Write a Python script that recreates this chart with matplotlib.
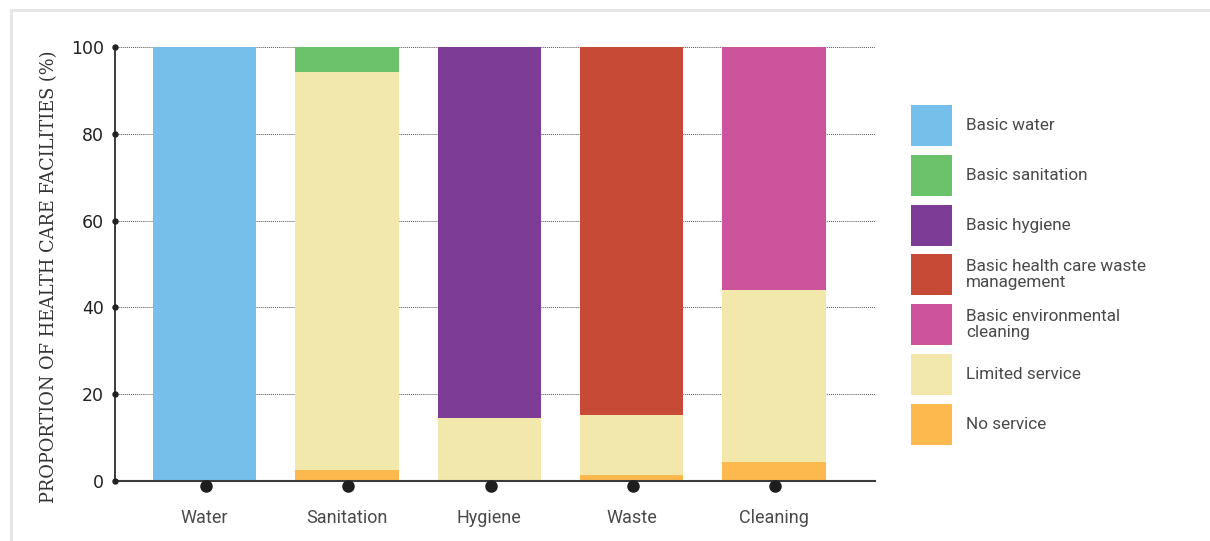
import numpy as np
import matplotlib
matplotlib.use('Agg')
import matplotlib.pyplot as plt
import matplotlib.transforms as mtransforms
from matplotlib.patches import Rectangle

# data (% of health care facilities)
categories = ['Water', 'Sanitation', 'Hygiene', 'Waste', 'Cleaning']
no_service = [0.0, 2.6, 0.0, 1.4, 4.4]
limited_service = [0.0, 91.6, 14.6, 13.8, 39.6]
basic_service = [100.0, 5.8, 85.4, 84.8, 56.0]

basic_colors = ['#74c0ea', '#6cc16b', '#7d3c96', '#c64a35', '#cd539c']
limited_color = '#f2e8ab'
no_color = '#fdb94e'

legend_labels = ['Basic water', 'Basic sanitation', 'Basic hygiene',
                 'Basic health care waste\nmanagement',
                 'Basic environmental\ncleaning',
                 'Limited service', 'No service']
legend_colors = basic_colors + [limited_color, no_color]

yticks = [0, 20, 40, 60, 80, 100]

W, H = 1210, 541
fig = plt.figure(figsize=(W / 100, H / 100), dpi=100)
ax = fig.add_axes([115 / W, 1 - 481 / H, 760 / W, 434 / H])

x = np.arange(len(categories))
bw = 0.725
no_arr = np.array(no_service)
lim_arr = np.array(limited_service)
ax.bar(x, no_arr, bw, color=no_color, zorder=2)
ax.bar(x, lim_arr, bw, bottom=no_arr, color=limited_color, zorder=2)
ax.bar(x, basic_service, bw, bottom=no_arr + lim_arr, color=basic_colors, zorder=2)

ax.set_xlim(-0.63, 4.71)
ax.set_ylim(0, 100)

# spines
for s in ['top', 'right']:
    ax.spines[s].set_visible(False)
ax.spines['left'].set_color('#2b2b2b')
ax.spines['left'].set_linewidth(1.3)
ax.spines['bottom'].set_color('#3a3a3a')
ax.spines['bottom'].set_linewidth(1.5)
ax.spines['bottom'].set_zorder(3)

# dotted grid
ax.set_yticks(yticks)
ax.yaxis.grid(True, linestyle=(0, (1, 1)), linewidth=0.7, color='#555555')
ax.set_axisbelow(True)
ax.tick_params(axis='y', length=0, pad=8, labelsize=12.5, labelcolor='#222222')
for lab in ax.get_yticklabels():
    lab.set_fontfamily('DejaVu Sans')

# dots on the y axis at the ticks
ax.plot([ax.get_xlim()[0]] * len(yticks), yticks, 'o', ms=3.6, color='#222222',
        clip_on=False, zorder=4)

# dots under each category
off = mtransforms.ScaledTranslation(1.5 / 100, -4.7 / 100, fig.dpi_scale_trans)
ax.plot(x, np.zeros(len(x)), 'o', ms=8, color='#1e1e1e', clip_on=False,
        zorder=5, transform=ax.transData + off)

ax.set_xticks(x)
ax.set_xticklabels(categories, fontfamily='Roboto', fontsize=13, color='#4a4a4a')
ax.tick_params(axis='x', length=0, pad=20.5)

ax.set_ylabel('PROPORTION OF HEALTH CARE FACILITIES (%)', fontfamily='DejaVu Serif',
              fontsize=12.8, color='#333333')
ax.yaxis.set_label_coords(-0.075, 0.471)

# legend drawn by hand on the right
sq = 41
top0 = 105
step = 49.8
for i, (lab, col) in enumerate(zip(legend_labels, legend_colors)):
    top = top0 + i * step
    fig.add_artist(Rectangle((911 / W, 1 - (top + sq) / H), sq / W, sq / H,
                             transform=fig.transFigure, color=col, lw=0))
    fig.text(966 / W, 1 - (top + sq / 2) / H, lab, ha='left', va='center',
             fontfamily='Roboto', fontsize=12.3,
             color='#4a4a4a', linespacing=1.1)

# light frame around the figure
fig.add_artist(Rectangle((10.5 / W, -0.2), 1.2, 1.2 - 9.5 / H,
                         transform=fig.transFigure, fill=False,
                         edgecolor='#e6e6e6', lw=2.2))

fig.savefig('out.png', dpi=100)
